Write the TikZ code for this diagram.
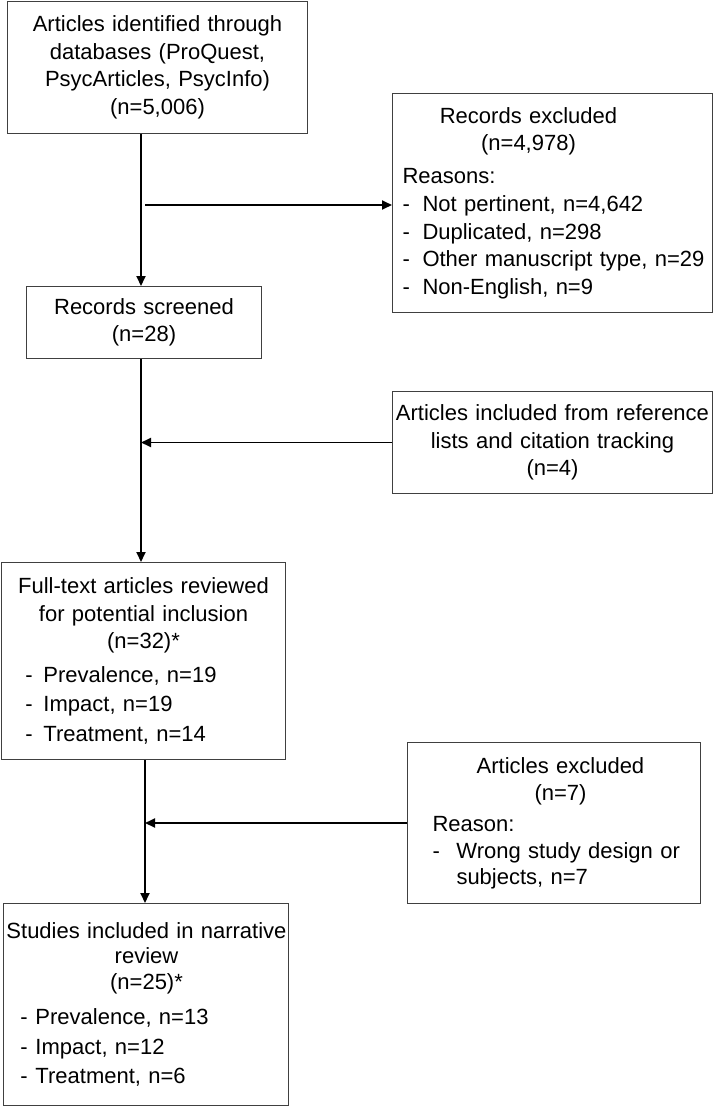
\documentclass[tikz,border=0pt]{standalone}
\usepackage{fontspec}
\setmainfont{Liberation Sans}
\usetikzlibrary{arrows.meta}
\newcommand{\hdr}[2]{\hspace*{#1pt}\makebox[0pt]{#2}}
\newcommand{\itm}[3]{\hspace*{#1pt}\makebox[#2pt][l]{-}#3}
\begin{document}
\begin{tikzpicture}[x=1pt,y=-1pt,
  box/.style={draw=black!75,line width=1pt,anchor=north west,inner xsep=0pt,inner ysep=0pt,
    font=\fontsize{22}{27.5}\selectfont},
  arr/.style={line width=1.8pt,-{Triangle[length=10pt,width=9pt]}}]
\useasboundingbox (0,0) rectangle (713,1106);
\coordinate (c1) at (141,0);\coordinate (c2) at (145,0);\coordinate (h1) at (145,205);
\node[box,align=center,text width=300,minimum height=132] (id) at (7,1)
  {Articles identified through\\databases (ProQuest,\\PsycArticles, PsycInfo)\\(n=5,006)};
\node[box,align=center,text width=235,minimum height=72] (scr) at (26,286) {Records screened\\(n=28)};
\node[box,align=left,text width=320,minimum height=219] (excl) at (392,93)
  {\hdr{136}{Records excluded}\\\hdr{136}{(n=4,978)}\\[5pt]
   \hspace*{10pt}Reasons:\\[1pt]
   \itm{10}{20}{Not pertinent, n=4,642}\\
   \itm{10}{20}{Duplicated, n=298}\\
   \itm{10}{20}{Other manuscript type, n=29}\\
   \itm{10}{20}{Non-English, n=9}};
\node[box,align=center,text width=320,minimum height=102] (refs) at (392,391)
  {Articles included from reference\\lists and citation tracking\\(n=4)};
\node[box,align=left,text width=284,minimum height=197] (full) at (1,562)
  {\hdr{142}{Full-text articles reviewed}\\\hdr{142}{for potential inclusion}\\\hdr{142}{(n=32)*}\\[6pt]
   \itm{24}{18}{Prevalence, n=19}\\[2pt]
   \itm{24}{18}{Impact, n=19}\\[2pt]
   \itm{24}{18}{Treatment, n=14}};
\node[box,align=left,text width=293,minimum height=161] (artex) at (407,742)
  {\hdr{153}{Articles excluded}\\\hdr{153}{(n=7)}\\[3pt]
   \hspace*{25pt}Reason:\\
   \itm{25}{24}{Wrong study design or}\\[-2pt]
   \hspace*{49pt}subjects, n=7};
\node[box,align=left,text width=285,minimum height=202] (incl) at (3,903)
  {\hdr{143}{Studies included in narrative}\\[-2pt]\hdr{143}{review}\\[-2pt]\hdr{143}{(n=25)*}\\[8pt]
   \itm{17}{15}{Prevalence, n=13}\\[2pt]
   \itm{17}{15}{Impact, n=12}\\[2pt]
   \itm{17}{15}{Treatment, n=6}};
\draw[arr] (id.south -| c1) -- (scr.north -| c1);
\draw[arr] (h1) -- (h1 -| excl.west);
\draw[arr] (scr.south -| c1) -- (full.north -| c1);
\draw[arr] (refs.west) -- (refs.west -| c1);
\draw[arr] (full.south -| c2) -- (incl.north -| c2);
\draw[arr] (artex.west) -- (artex.west -| c2);
\end{tikzpicture}
\end{document}
